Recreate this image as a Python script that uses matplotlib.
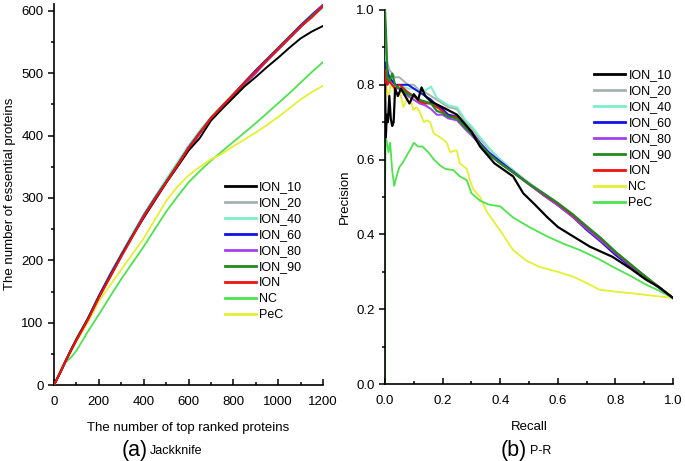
import matplotlib
matplotlib.use("Agg")
import matplotlib.pyplot as plt
from matplotlib.ticker import MultipleLocator

plt.rcParams['font.family'] = ['Liberation Sans', 'DejaVu Sans']

# ---------------- data: (a) Jackknife ----------------
top_ranked = [0, 25, 50, 75, 100, 150, 200, 250, 300, 350, 400, 450, 500, 550,
              600, 650, 700, 750, 800, 850, 900, 950, 1000, 1050, 1100, 1150, 1200]
jk_ion_10 = [0, 18, 37, 55, 73, 105, 141, 174, 207, 239, 268, 296, 324, 350,
             376, 396, 424, 443, 461, 479, 494, 510, 525, 541, 556, 567, 576]
jk_ion_20 = [0, 18, 38, 56, 74, 106, 142, 176, 209, 241, 272, 300, 327, 354,
             382, 406, 429, 448, 466, 484, 502, 520, 538, 556, 574, 592, 609]
jk_ion_40 = [0, 19, 38, 57, 75, 107, 143, 178, 211, 243, 274, 302, 330, 357,
             384, 408, 430, 449, 467, 485, 503, 521, 539, 557, 574, 590, 605]
jk_ion_60 = [0, 18, 37, 56, 73, 106, 143, 177, 209, 240, 272, 300, 326, 353,
             381, 405, 428, 447, 466, 486, 505, 523, 541, 559, 577, 594, 610]
jk_ion_80 = [0, 18, 37, 55, 72, 105, 141, 175, 208, 239, 271, 298, 325, 350,
             377, 403, 427, 446, 464, 482, 500, 520, 538, 556, 574, 592, 609]
jk_ion_90 = [0, 18, 37, 55, 73, 105, 141, 174, 207, 239, 270, 299, 326, 353,
             380, 405, 428, 447, 465, 484, 503, 521, 540, 558, 575, 592, 607]
jk_ion = [0, 18, 37, 55, 72, 104, 140, 173, 206, 238, 270, 298, 325, 352,
          380, 404, 428, 447, 466, 485, 503, 521, 539, 557, 575, 590, 608]
jk_nc = [0, 20, 36, 44, 55, 85, 113, 142, 170, 196, 222, 250, 278, 302,
         325, 343, 360, 375, 390, 405, 420, 436, 452, 468, 485, 502, 518]
jk_pec = [0, 18, 36, 54, 70, 100, 134, 160, 185, 210, 235, 265, 295, 318,
          336, 350, 362, 371, 383, 394, 405, 417, 430, 444, 458, 470, 480]

# ---------------- data: (b) P-R ----------------
recall = [0, 0.003, 0.008, 0.015, 0.025, 0.035, 0.05, 0.065, 0.08, 0.1, 0.12,
          0.14, 0.16, 0.18, 0.2, 0.22, 0.25, 0.28, 0.3, 0.33, 0.36, 0.4, 0.45,
          0.5, 0.55, 0.6, 0.65, 0.7, 0.75, 0.8, 0.85, 0.9, 0.95, 1.0]
pr_ion_20 = [0.85, 0.93, 0.86, 0.84, 0.83, 0.82, 0.82, 0.81, 0.80, 0.80, 0.785,
             0.78, 0.77, 0.76, 0.75, 0.74, 0.735, 0.70, 0.685, 0.655, 0.63, 0.60,
             0.568, 0.538, 0.51, 0.483, 0.452, 0.418, 0.384, 0.35, 0.318, 0.288,
             0.258, 0.23]
pr_ion_40 = [0.82, 0.88, 0.83, 0.82, 0.81, 0.80, 0.80, 0.795, 0.79, 0.79, 0.785,
             0.785, 0.795, 0.765, 0.755, 0.745, 0.74, 0.705, 0.69, 0.66, 0.632,
             0.60, 0.568, 0.537, 0.51, 0.482, 0.45, 0.415, 0.383, 0.35, 0.318,
             0.288, 0.258, 0.23]
pr_ion_60 = [0.80, 0.86, 0.84, 0.82, 0.81, 0.80, 0.80, 0.80, 0.80, 0.79, 0.78,
             0.77, 0.76, 0.745, 0.735, 0.72, 0.715, 0.685, 0.675, 0.645, 0.62,
             0.595, 0.565, 0.535, 0.505, 0.478, 0.448, 0.412, 0.38, 0.345, 0.315,
             0.287, 0.258, 0.23]
pr_ion_80 = [0.78, 0.82, 0.80, 0.81, 0.80, 0.79, 0.79, 0.78, 0.77, 0.76, 0.75,
             0.745, 0.735, 0.72, 0.72, 0.71, 0.705, 0.68, 0.665, 0.64, 0.615,
             0.59, 0.562, 0.533, 0.505, 0.478, 0.448, 0.415, 0.383, 0.35, 0.318,
             0.288, 0.258, 0.23]
pr_ion_90 = [1.0, 0.95, 0.82, 0.81, 0.83, 0.80, 0.79, 0.785, 0.775, 0.77, 0.76,
             0.755, 0.75, 0.73, 0.725, 0.715, 0.71, 0.685, 0.67, 0.64, 0.615,
             0.59, 0.563, 0.535, 0.51, 0.484, 0.455, 0.422, 0.39, 0.354, 0.322,
             0.29, 0.26, 0.23]
pr_ion = [0.80, 0.84, 0.80, 0.81, 0.80, 0.79, 0.80, 0.79, 0.78, 0.77, 0.755,
          0.75, 0.75, 0.74, 0.73, 0.715, 0.715, 0.69, 0.675, 0.64, 0.615, 0.59,
          0.563, 0.535, 0.508, 0.482, 0.452, 0.42, 0.388, 0.352, 0.32, 0.29,
          0.26, 0.23]

recall_ion_10 = [0, 0.003, 0.006, 0.01, 0.015, 0.02, 0.025, 0.03, 0.035, 0.045,
                 0.055, 0.07, 0.085, 0.1, 0.115, 0.127, 0.14, 0.16, 0.2, 0.25,
                 0.3, 0.33, 0.38, 0.445, 0.48, 0.52, 0.562, 0.6, 0.642, 0.712,
                 0.79, 0.85, 0.908, 0.95, 1.0]
pr_ion_10 = [0.80, 0.66, 0.72, 0.70, 0.77, 0.71, 0.69, 0.70, 0.79, 0.77, 0.79,
             0.77, 0.75, 0.775, 0.76, 0.793, 0.77, 0.755, 0.74, 0.72, 0.675,
             0.635, 0.59, 0.555, 0.51, 0.48, 0.447, 0.42, 0.40, 0.367, 0.34,
             0.31, 0.278, 0.26, 0.23]

recall_nc = [0, 0.006, 0.012, 0.02, 0.03, 0.04, 0.052, 0.064, 0.075, 0.087,
             0.098, 0.11, 0.122, 0.135, 0.146, 0.157, 0.169, 0.18, 0.2, 0.214,
             0.226, 0.249, 0.26, 0.284, 0.295, 0.307, 0.33, 0.354, 0.4, 0.445,
             0.49, 0.537, 0.6, 0.653, 0.7, 0.745, 0.8, 0.85, 0.92, 1.0]
pr_nc = [0.82, 0.79, 0.765, 0.80, 0.79, 0.77, 0.78, 0.74, 0.76, 0.77,
         0.733, 0.74, 0.725, 0.70, 0.705, 0.70, 0.67, 0.665, 0.655, 0.645,
         0.62, 0.625, 0.59, 0.575, 0.545, 0.52, 0.50, 0.46, 0.41, 0.358,
         0.33, 0.313, 0.30, 0.287, 0.27, 0.252, 0.247, 0.243, 0.237, 0.23]

recall_pec = [0, 0, 0.002, 0.006, 0.012, 0.018, 0.025, 0.032, 0.04, 0.05,
              0.06, 0.075, 0.09, 0.1, 0.115, 0.13, 0.15, 0.17, 0.19, 0.21,
              0.237, 0.26, 0.284, 0.3, 0.33, 0.36, 0.4, 0.445, 0.5, 0.562,
              0.62, 0.677, 0.74, 0.792, 0.85, 0.908, 0.95, 1.0]
pr_pec = [0, 0.5, 0.66, 0.65, 0.62, 0.645, 0.57, 0.53, 0.555, 0.58,
          0.59, 0.61, 0.63, 0.645, 0.635, 0.635, 0.62, 0.6, 0.585, 0.575,
          0.572, 0.555, 0.545, 0.51, 0.49, 0.48, 0.475, 0.445, 0.42, 0.395,
          0.375, 0.358, 0.335, 0.313, 0.29, 0.265, 0.25, 0.23]

labels = ['ION_10', 'ION_20', 'ION_40', 'ION_60', 'ION_80', 'ION_90', 'ION', 'NC', 'PeC']
C_BLACK = '#000000'
C_GRAY = '#a8b0b0'
C_AQUA = '#7af0c8'
C_BLUE = '#1010e8'
C_PURPLE = '#a040f0'
C_DKGREEN = '#1f8a1f'
C_RED = '#f01010'
C_GREEN = '#4de34d'
C_YELLOW = '#e4f030'

fig = plt.figure(figsize=(6.85, 4.61), dpi=100)

# left: 0 at y=385 px, 600 at y=11 px; y-limit 612 so the curves' tops show
ax1 = fig.add_axes([54/685, 76/461, 269/685, (374 * 612 / 600)/461])
ax2 = fig.add_axes([385/685, 77/461, 288/685, 374/461])

left_series = [
    (jk_ion_10, C_BLACK, 1.4, 5),
    (jk_ion_20, C_GRAY, 1.4, 3),
    (jk_ion_40, C_AQUA, 1.4, 3),
    (jk_ion_60, C_BLUE, 1.4, 4),
    (jk_ion_80, C_PURPLE, 1.4, 4),
    (jk_ion_90, C_DKGREEN, 1.4, 4),
    (jk_ion, C_RED, 1.6, 6),
    (jk_nc, C_GREEN, 1.3, 2),
    (jk_pec, C_YELLOW, 1.3, 2),
]
handles1 = []
for (y, c, lw, z), lab in zip(left_series, labels):
    h, = ax1.plot(top_ranked, y, color=c, lw=lw, zorder=z, label=lab)
    handles1.append(h)

right_series = [
    (recall_ion_10, pr_ion_10, C_BLACK, 1.6, 7),
    (recall, pr_ion_20, C_GRAY, 1.4, 3),
    (recall, pr_ion_40, C_AQUA, 1.4, 3),
    (recall, pr_ion_60, C_BLUE, 1.4, 4),
    (recall, pr_ion_80, C_PURPLE, 1.4, 4),
    (recall, pr_ion_90, C_DKGREEN, 1.6, 5),
    (recall, pr_ion, C_RED, 1.4, 4),
    (recall_nc, pr_nc, C_YELLOW, 1.3, 2),
    (recall_pec, pr_pec, C_GREEN, 1.3, 2),
]
handles2 = []
for (x, y, c, lw, z), lab in zip(right_series, labels):
    h, = ax2.plot(x, y, color=c, lw=lw, zorder=z, label=lab)
    handles2.append(h)

for ax in (ax1, ax2):
    ax.spines['top'].set_visible(False)
    ax.spines['right'].set_visible(False)
    ax.spines['left'].set_linewidth(1.2)
    ax.spines['bottom'].set_linewidth(1.2)
    ax.tick_params(axis='y', which='both', direction='out', labelsize=9.5, width=1.1)
    ax.tick_params(axis='x', which='both', direction='in', labelsize=9.5, width=1.1, pad=8)
    ax.tick_params(which='major', length=4)
    ax.tick_params(which='minor', length=2.5)

ax1.set_xlim(0, 1200)
ax1.set_ylim(0, 612)
ax1.xaxis.set_major_locator(MultipleLocator(200))
ax1.xaxis.set_minor_locator(MultipleLocator(100))
ax1.yaxis.set_major_locator(MultipleLocator(100))
ax1.yaxis.set_minor_locator(MultipleLocator(50))
ax1.set_xlabel('The number of top ranked proteins', fontsize=9.5, labelpad=10)
ax1.set_ylabel('The number of essential proteins', fontsize=9.5, labelpad=4)

ax2.set_xlim(0, 1.0)
ax2.set_ylim(0, 1.0)
ax2.xaxis.set_major_locator(MultipleLocator(0.2))
ax2.xaxis.set_minor_locator(MultipleLocator(0.1))
ax2.yaxis.set_major_locator(MultipleLocator(0.2))
ax2.yaxis.set_minor_locator(MultipleLocator(0.1))
ax2.xaxis.set_major_formatter(plt.FormatStrFormatter('%.1f'))
ax2.yaxis.set_major_formatter(plt.FormatStrFormatter('%.1f'))
ax2.set_xlabel('Recall', fontsize=9.5, labelpad=10)
ax2.set_ylabel('Precision', fontsize=9.5, labelpad=4)

leg_kw = dict(frameon=False, fontsize=9, handlelength=2.5, handletextpad=0.25,
              labelspacing=0.32, borderpad=0, borderaxespad=0, loc='upper left')
l1 = fig.legend(handles=handles1, bbox_to_anchor=(225/685, 1 - 181/461), **leg_kw)
l2 = fig.legend(handles=handles2, bbox_to_anchor=(594/685, 1 - 69/461), **leg_kw)
for l in (l1, l2):
    for line in l.get_lines():
        line.set_linewidth(2.0)

fig.text(135/685, 1 - 450/461, '(a)', fontsize=15.5, ha='center', va='center')
fig.text(150/685, 1 - 451/461, 'Jackknife', fontsize=9, ha='left', va='center')
fig.text(514/685, 1 - 450/461, '(b)', fontsize=15.5, ha='center', va='center')
fig.text(530/685, 1 - 451/461, 'P-R', fontsize=9, ha='left', va='center')

fig.savefig('out.png', dpi=100)
